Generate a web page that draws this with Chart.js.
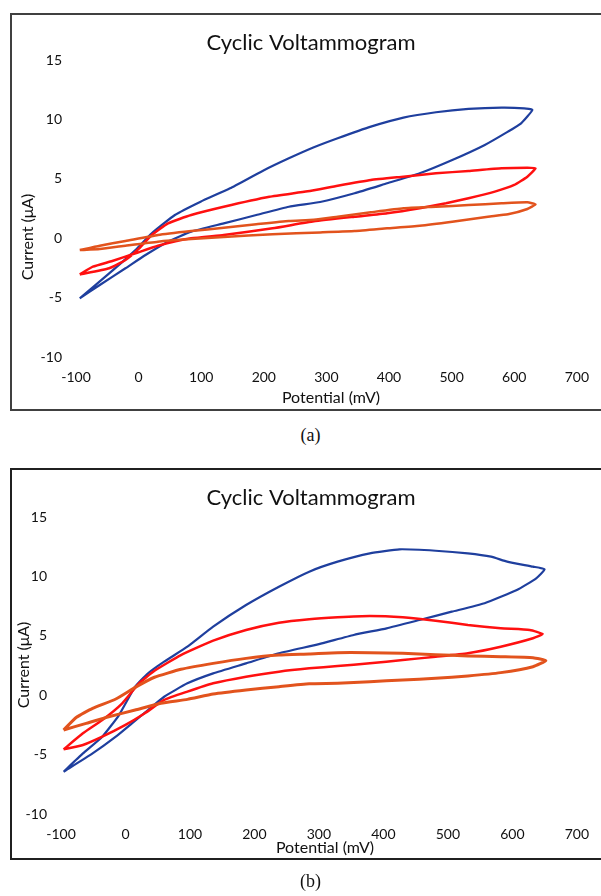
<!DOCTYPE html>
<html>
<head>
<meta charset="utf-8">
<script src="https://cdn.jsdelivr.net/npm/chart.js@4"></script>
<style>
  html, body { margin: 0; padding: 0; background: #fff; overflow: hidden; width: 601px; height: 896px; }
  .frame { position: absolute; border: 2px solid #404040; box-sizing: border-box; }
  .plot { position: absolute; left: 0; width: 601px; height: 420px; }
  .caption { position: absolute; width: 601px; left: 10px; text-align: center; font-family: "Liberation Serif", "DejaVu Serif", serif; font-size: 18px; color: #111; }
</style>
</head>
<body>
<div class="frame" style="left:10px; top:13px; width:620px; height:398px;"></div>
<div class="plot" style="top:0px;"><canvas id="chartA"></canvas></div>
<div class="caption" style="top:425px;">(a)</div>

<div class="frame" style="left:10px; top:468px; width:620px; height:392px; border-color:#202020;"></div>
<div class="plot" style="top:455px;"><canvas id="chartB"></canvas></div>
<div class="caption" style="top:871px;">(b)</div>

<script>
// axis ticks
const potentialTicks = [-100, 0, 100, 200, 300, 400, 500, 600, 700];
const currentTicks = [-10, -5, 0, 5, 10, 15];

// panel (a) - each loop: forward sweep then reverse sweep (mV, µA)
const aBlueV = [-94, -47, -5, 21, 58, 99, 146, 198, 240, 280, 318, 371, 423, 475, 527, 580, 616, 629,
  611, 590, 553, 501, 449, 397, 345, 290, 240, 188, 136, 84, 47, 11, -21, -62, -94];
const aBlueI = [-5.06, -2.96, -1.0, 0.41, 1.95, 3.07, 4.2, 5.66, 6.72, 7.65, 8.41, 9.39, 10.15, 10.6, 10.88, 10.99, 10.93, 10.8,
  9.67, 8.97, 7.85, 6.58, 5.46, 4.62, 3.78, 3.05, 2.65, 1.95, 1.25, 0.55, -0.29, -1.41, -2.53, -3.94, -5.06];

const aRedV = [-94, -47, -21, 0, 21, 47, 84, 136, 209, 270, 318, 371, 423, 475, 527, 580, 621, 634,
  621, 600, 569, 527, 491, 449, 397, 345, 280, 214, 136, 84, 31, -5, -42, -73, -94];
const aRedI = [-3.05, -2.53, -1.84, -0.9, 0.27, 1.25, 1.95, 2.65, 3.49, 3.95, 4.42, 4.9, 5.18, 5.46, 5.66, 5.88, 5.93, 5.88,
  5.18, 4.48, 3.92, 3.36, 2.94, 2.52, 2.1, 1.81, 1.42, 0.83, 0.27, -0.01, -0.63, -1.27, -1.92, -2.4, -3.05];

const aOrangeV = [-94, -62, -21, 31, 84, 136, 188, 240, 280, 318, 371, 423, 475, 527, 580, 621, 634,
  621, 590, 558, 501, 449, 397, 345, 290, 214, 136, 84, 31, -21, -62, -94];
const aOrangeI = [-1.0, -0.63, -0.24, 0.27, 0.6, 0.88, 1.17, 1.45, 1.55, 1.81, 2.18, 2.52, 2.65, 2.79, 2.94, 3.02, 2.85,
  2.46, 2.01, 1.81, 1.39, 1.05, 0.83, 0.6, 0.49, 0.33, 0.1, -0.07, -0.29, -0.63, -0.91, -1.0];

// panel (b)
const bBlueV = [-96, -66, -36, -10, 15, 35, 60, 96, 136, 187, 238, 285, 329, 379, 425, 481, 531, 567, 592, 632, 650,
  637, 607, 557, 506, 456, 405, 354, 300, 238, 187, 136, 96, 60, 35, 10, -15, -51, -96];
const bBlueI = [-6.44, -4.9, -3.49, -1.67, 0.72, 1.84, 2.82, 4.08, 5.77, 7.59, 9.13, 10.4, 11.24, 11.94, 12.28, 12.16, 11.94, 11.66, 11.24, 10.82, 10.6,
  9.84, 8.86, 7.74, 7.03, 6.33, 5.63, 5.07, 4.3, 3.53, 2.68, 1.84, 1.0, -0.13, -1.25, -2.37, -3.49, -4.9, -6.44];

const bRedV = [-96, -66, -36, -5, 20, 45, 86, 136, 187, 238, 285, 329, 379, 430, 481, 531, 582, 627, 647,
  632, 582, 531, 481, 430, 379, 329, 285, 238, 187, 136, 96, 60, 30, 0, -36, -66, -96];
const bRedI = [-4.56, -3.21, -2.09, -0.68, 0.94, 2.06, 3.38, 4.59, 5.49, 6.1, 6.4, 6.56, 6.67, 6.56, 6.27, 5.91, 5.63, 5.49, 5.15,
  4.79, 4.08, 3.53, 3.24, 2.96, 2.68, 2.46, 2.26, 1.98, 1.56, 1.0, 0.3, -0.4, -1.52, -2.5, -3.49, -4.19, -4.56];

const bOrangeV = [-96, -76, -51, -15, 15, 45, 86, 136, 187, 238, 285, 329, 379, 430, 481, 531, 582, 632, 652,
  632, 582, 531, 481, 430, 379, 329, 285, 238, 187, 136, 96, 55, 15, -26, -61, -96];
const bOrangeI = [-2.93, -1.86, -1.1, -0.32, 0.66, 1.51, 2.18, 2.68, 3.1, 3.38, 3.47, 3.58, 3.58, 3.53, 3.41, 3.3, 3.24, 3.16, 2.91,
  2.4, 1.9, 1.62, 1.42, 1.28, 1.14, 1.0, 0.96, 0.72, 0.44, 0.1, -0.35, -0.68, -1.25, -1.81, -2.37, -2.93];

const BLUE = "#1f3f9e";
const RED = "#ff1010";
const ORANGE = "#e2531d";
const FONT = "Lato, 'Open Sans', sans-serif";

function toPoints(xs, ys) {
  return xs.map((x, i) => ({ x, y: ys[i] }));
}

function loop(xs, ys, color, width) {
  return {
    data: toPoints(xs, ys),
    showLine: true,
    borderColor: color,
    backgroundColor: color,
    borderWidth: width,
    pointRadius: 0,
    tension: 0.15
  };
}

// draws chart title and both axis titles at fixed spots
const panelText = {
  id: "panelText",
  afterDraw(chart, args, opts) {
    const ctx = chart.ctx;
    ctx.save();
    ctx.fillStyle = "#111";
    ctx.textAlign = "center";
    ctx.textBaseline = "middle";
    ctx.font = "22px " + FONT;
    ctx.fillText(opts.title, opts.titleX, opts.titleY);
    ctx.font = "16px " + FONT;
    ctx.fillText(opts.xTitle, opts.xTitleX, opts.xTitleY);
    ctx.translate(opts.yTitleX, opts.yTitleY);
    ctx.rotate(-Math.PI / 2);
    ctx.fillText(opts.yTitle, 0, 0);
    ctx.restore();
  }
};

// box: left = y axis width, bottom = x axis height, right/top = padding
function makeChart(id, datasets, box, text) {
  return new Chart(document.getElementById(id), {
    type: "scatter",
    data: { datasets },
    options: {
      responsive: true,
      maintainAspectRatio: false,
      animation: false,
      layout: { padding: { left: 0, bottom: 0, right: box.right, top: box.top } },
      plugins: {
        legend: { display: false },
        tooltip: { enabled: false },
        panelText: text
      },
      scales: {
        x: {
          type: "linear",
          min: potentialTicks[0],
          max: potentialTicks[potentialTicks.length - 1],
          afterBuildTicks: (s) => { s.ticks = potentialTicks.map(v => ({ value: v })); },
          afterFit: (s) => { s.height = box.bottom; },
          grid: { display: false, drawTicks: false },
          border: { display: false },
          ticks: { padding: 12, color: "#111", font: { family: FONT, size: 14 } }
        },
        y: {
          min: currentTicks[0],
          max: currentTicks[currentTicks.length - 1],
          afterBuildTicks: (s) => { s.ticks = currentTicks.map(v => ({ value: v })); },
          afterFit: (s) => { s.width = box.left; },
          grid: { display: false, drawTicks: false },
          border: { display: false },
          ticks: { padding: 14, color: "#111", font: { family: FONT, size: 14 } }
        }
      }
    },
    plugins: [panelText]
  });
}

makeChart("chartA", [
  loop(aOrangeV, aOrangeI, ORANGE, 2.5),
  loop(aRedV, aRedI, RED, 2.5),
  loop(aBlueV, aBlueI, BLUE, 2.2)
], { left: 76, right: 14, top: 60, bottom: 63 }, {
  title: "Cyclic Voltammogram", titleX: 311, titleY: 43,
  xTitle: "Potential (mV)", xTitleX: 331, xTitleY: 398,
  yTitle: "Current (μA)", yTitleX: 28, yTitleY: 237
});

makeChart("chartB", [
  loop(bOrangeV, bOrangeI, ORANGE, 3),
  loop(bRedV, bRedI, RED, 2.5),
  loop(bBlueV, bBlueI, BLUE, 2.2)
], { left: 61, right: 13, top: 62, bottom: 61 }, {
  title: "Cyclic Voltammogram", titleX: 311, titleY: 43,
  xTitle: "Potential (mV)", xTitleX: 325, xTitleY: 393,
  yTitle: "Current (μA)", yTitleX: 24, yTitleY: 210
});
</script>
</body>
</html>
